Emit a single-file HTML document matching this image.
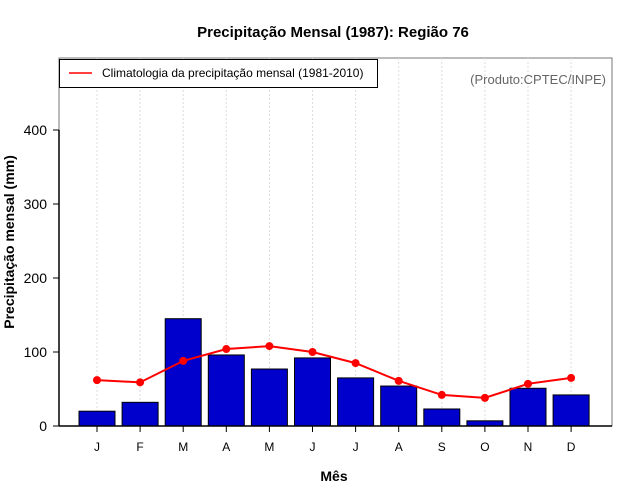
<!DOCTYPE html>
<html><head><meta charset="utf-8"><style>
body{margin:0;background:#fff}svg{display:block;font-family:"Liberation Sans",sans-serif}
</style></head><body>
<svg id="c" width="640" height="500">
<text x="333" y="37" text-anchor="middle" font-size="15" font-weight="bold">Precipitação Mensal (1987): Região 76</text>
<rect x="59" y="58" width="553" height="368" fill="none" stroke="#777" stroke-width="1"/>
<g id="grid"></g><g id="bars"></g><g id="line"></g><g id="axes"></g>
<g>
<rect x="59.5" y="59.5" width="318" height="28" fill="#fff" stroke="#000"/>
<line x1="69" y1="73" x2="92" y2="73" stroke="red" stroke-width="1.5"/>
<text x="102" y="77" font-size="12">Climatologia da precipitação mensal (1981-2010)</text>
</g>
<text x="606" y="84" text-anchor="end" font-size="13" fill="#666">(Produto:CPTEC/INPE)</text>
<text x="334" y="481" text-anchor="middle" font-size="14" font-weight="bold">Mês</text>
<text transform="translate(14,242) rotate(-90)" text-anchor="middle" font-size="14" font-weight="bold">Precipitação mensal (mm)</text>
</svg>
<script>
const months=["J","F","M","A","M","J","J","A","S","O","N","D"];
const observed=[20,32,145,96,77,92,65,54,23,7,51,42];
const climatology=[62,59,88,104,108,100,85,61,42,38,57,65];
const yTicks=[0,100,200,300,400];
const NS="http://www.w3.org/2000/svg";
const x=i=>97+i*43.1;
const y=v=>426-v*0.74;
function mk(t,a,p){const e=document.createElementNS(NS,t);for(const k in a)e.setAttribute(k,a[k]);document.getElementById(p).appendChild(e);return e;}
months.forEach((m,i)=>{
 const g=mk("line",{x1:x(i),x2:x(i),y1:58,y2:426,stroke:"#ddd","stroke-dasharray":"2,2"},"grid");
 
 
 const b=mk("rect",{x:x(i)-18,y:y(observed[i]),width:36,height:y(0)-y(observed[i]),fill:"#0000cd",stroke:"#000","stroke-width":1},"bars");
 
 
 const t=mk("line",{x1:x(i),x2:x(i),y1:426,y2:432,stroke:"#000"},"axes");
 
 
 const l=mk("text",{x:x(i),y:451,"text-anchor":"middle","font-size":12},"axes");l.textContent=m;
 
 
});
const pl=mk("polyline",{points:climatology.map((v,i)=>x(i)+","+y(v)).join(" "),fill:"none",stroke:"red","stroke-width":2},"line");


climatology.forEach((v,i)=>{const c=mk("circle",{cx:x(i),cy:y(v),r:4,fill:"red"},"line");
 
 });
const ax=mk("line",{x1:59,x2:612,y1:426,y2:426,stroke:"#000","stroke-width":1.5},"axes");


const ay=mk("line",{x1:59,x2:59,y1:y(400),y2:426,stroke:"#000","stroke-width":1.5},"axes");


yTicks.forEach(v=>{
 const t=mk("line",{x1:53,x2:59,y1:y(v),y2:y(v),stroke:"#000"},"axes");
 
 
 const l=mk("text",{x:47,y:y(v)+5,"text-anchor":"end","font-size":14},"axes");l.textContent=v;
 
 
});
</script>
</body></html>
